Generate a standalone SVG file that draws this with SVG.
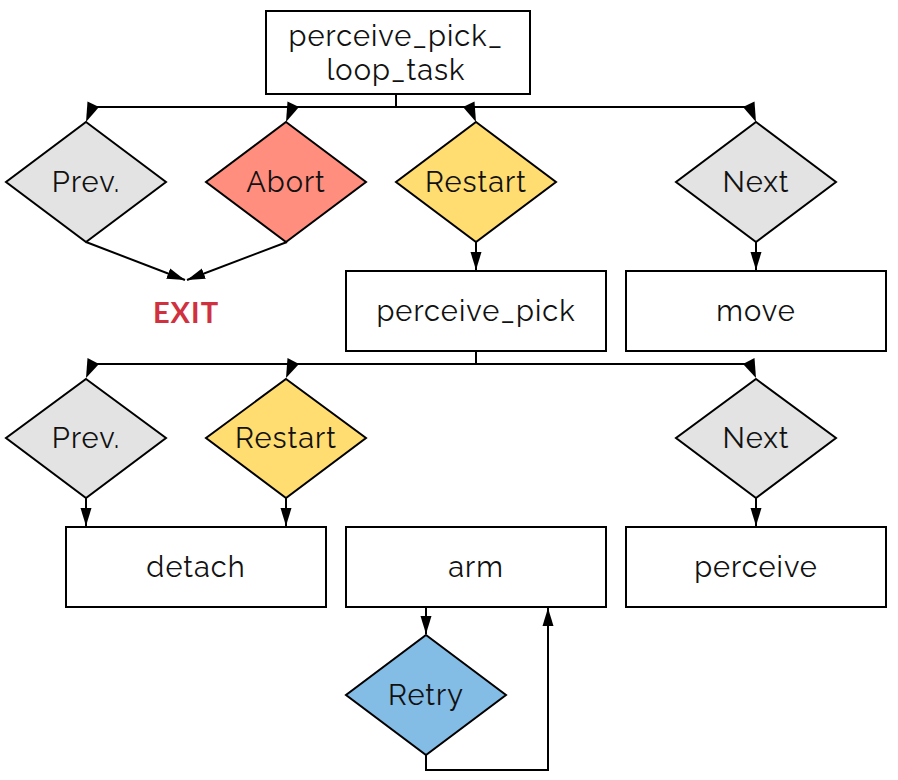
<svg xmlns="http://www.w3.org/2000/svg" width="898" height="780" viewBox="0 0 898 780">
<style>
.box{fill:#fff;stroke:#000;stroke-width:2}
.dia{stroke:#000;stroke-width:2}
.gray{fill:#e3e3e3}
.red{fill:#ff8e7f}
.yel{fill:#ffdd71}
.blue{fill:#83bce5}
.lbl{font-family:Raleway,Lato,"Open Sans",sans-serif;font-size:29px;letter-spacing:1px;fill:#111;text-anchor:middle;dominant-baseline:central}
.exit{font-family:Lato,"Open Sans",sans-serif;font-size:29px;font-weight:bold;letter-spacing:1px;fill:#d0313f;text-anchor:middle;dominant-baseline:central}
.ln{fill:none;stroke:#000;stroke-width:2}
.ah{fill:#000}
</style>
<defs>
<marker id="arr" markerUnits="userSpaceOnUse" markerWidth="18" markerHeight="12" refX="18" refY="6" orient="auto">
<path d="M0,0.5 L18,6 L0,11.5 z" fill="#000"/>
</marker>
</defs>
<g id="connectors">
<path class="ln" d="M396,94 V107 M97,107 H746"/>
<polygon class="ah" points="86,122 87.5,101.5 99,107"/>
<polygon class="ah" points="286,122 287.5,101.5 299,107"/>
<polygon class="ah" points="476,122 474.5,101.5 463,107"/>
<polygon class="ah" points="756,122 754.5,101.5 743,107"/>
<path class="ln" d="M86,242 L185,280" marker-end="url(#arr)"/>
<path class="ln" d="M287,242 L187,280" marker-end="url(#arr)"/>
<path class="ln" d="M476,242 V270" marker-end="url(#arr)"/>
<path class="ln" d="M756,242 V270" marker-end="url(#arr)"/>
<path class="ln" d="M476,351 V364 M97,364 H746"/>
<polygon class="ah" points="86,378 87.5,358 99,364"/>
<polygon class="ah" points="286,378 287.5,358 299,364"/>
<polygon class="ah" points="756,378 754.5,358 743,364"/>
<path class="ln" d="M86,498 V526" marker-end="url(#arr)"/>
<path class="ln" d="M286,498 V526" marker-end="url(#arr)"/>
<path class="ln" d="M756,498 V526" marker-end="url(#arr)"/>
<path class="ln" d="M426,607 V634" marker-end="url(#arr)"/>
<path class="ln" d="M426,755 V770 H548 V608" marker-end="url(#arr)"/>
</g>
<g id="root"><rect class="box" x="266" y="11" width="264" height="83"/><text class="lbl" x="396" y="36">perceive_pick_</text><text class="lbl" x="396" y="70">loop_task</text></g>
<g id="prev1"><polygon class="dia gray" points="86,122 166,182 86,242 6,182"/><text class="lbl" x="86" y="182">Prev.</text></g>
<g id="abort"><polygon class="dia red" points="286,122 366,182 286,242 206,182"/><text class="lbl" x="286" y="182">Abort</text></g>
<g id="restart1"><polygon class="dia yel" points="476,122 556,182 476,242 396,182"/><text class="lbl" x="476" y="182">Restart</text></g>
<g id="next1"><polygon class="dia gray" points="756,122 836,182 756,242 676,182"/><text class="lbl" x="756" y="182">Next</text></g>
<g id="exit"><text class="exit" x="186" y="311">EXIT</text></g>
<g id="perceive_pick"><rect class="box" x="346" y="271" width="260" height="80"/><text class="lbl" x="476" y="311">perceive_pick</text></g>
<g id="move"><rect class="box" x="626" y="271" width="260" height="80"/><text class="lbl" x="756" y="311">move</text></g>
<g id="prev2"><polygon class="dia gray" points="86,379 166,438 86,498 6,438"/><text class="lbl" x="86" y="438">Prev.</text></g>
<g id="restart2"><polygon class="dia yel" points="286,379 366,438 286,498 206,438"/><text class="lbl" x="286" y="438">Restart</text></g>
<g id="next2"><polygon class="dia gray" points="756,379 836,438 756,498 676,438"/><text class="lbl" x="756" y="438">Next</text></g>
<g id="detach"><rect class="box" x="66" y="527" width="260" height="80"/><text class="lbl" x="196" y="567">detach</text></g>
<g id="arm"><rect class="box" x="346" y="527" width="260" height="80"/><text class="lbl" x="476" y="567">arm</text></g>
<g id="perceive"><rect class="box" x="626" y="527" width="260" height="80"/><text class="lbl" x="756" y="567">perceive</text></g>
<g id="retry"><polygon class="dia blue" points="426,635 506,695 426,755 346,695"/><text class="lbl" x="426" y="695">Retry</text></g>
</svg>
